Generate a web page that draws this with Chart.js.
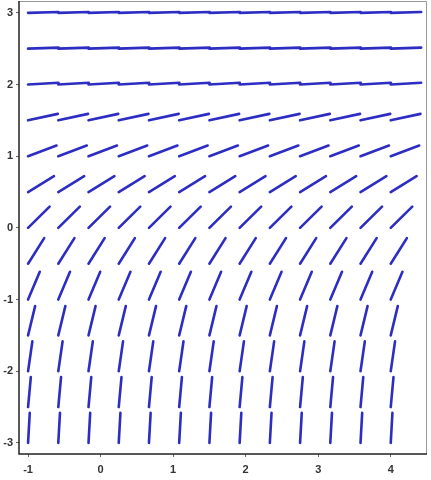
<!DOCTYPE html>
<html><head><meta charset="utf-8">
<script src="https://cdn.jsdelivr.net/npm/chart.js@4.4.1/dist/chart.umd.min.js"></script>
<style>html,body{margin:0;padding:0;background:#fff}#wrap{width:431px;height:480px}</style>
</head><body><div id="wrap"><canvas id="c" width="431" height="480"></canvas></div>
<script>
// grid columns (x) and rows (y) of the slope field
const xs = [-1, -0.5833, -0.1667, 0.25, 0.6667, 1.0833, 1.5, 1.9167, 2.3333, 2.75, 3.1667, 3.5833, 4];
const ys = [3, 2.5, 2, 1.5, 1, 0.5, 0, -0.5, -1, -1.5, -2, -2.5, -3];
// slope read for each row (same for all columns)
const slopes = [0.025, 0.035, 0.06, 0.22, 0.38, 0.62, 1.0, 1.6, 2.4, 4.2, 7.0, 11, 18];
const xTicks = [-1, 0, 1, 2, 3, 4];
const yTicks = [-3, -2, -1, 0, 1, 2, 3];
const segLen = 0.42;

const pts = [];
ys.forEach((y, j) => {
  const s = slopes[j];
  const dx = segLen / Math.sqrt(1 + s * s);
  xs.forEach(x => {
    pts.push({x: x, y: y});
    pts.push({x: x + dx, y: y + s * dx});
    pts.push({x: x, y: null});
  });
});

const frame = {
  id: 'frame',
  afterDraw(chart) {
    const {ctx, chartArea: a} = chart;
    ctx.save();
    ctx.lineWidth = 1;
    ctx.strokeStyle = '#999';
    ctx.beginPath();
    ctx.moveTo(a.left, a.top + 0.5); ctx.lineTo(a.right - 0.5, a.top + 0.5); ctx.lineTo(a.right - 0.5, a.bottom);
    ctx.stroke();
    ctx.strokeStyle = '#222';
    ctx.lineWidth = 1.5;
    ctx.beginPath();
    ctx.moveTo(a.left, a.top); ctx.lineTo(a.left, a.bottom); ctx.lineTo(a.right, a.bottom);
    ctx.stroke();
    ctx.restore();
  }
};

new Chart(document.getElementById('c'), {
  type: 'scatter',
  data: { datasets: [{
    data: pts, showLine: true, spanGaps: false,
    borderColor: 'rgb(45,45,195)', borderWidth: 2.6, borderCapStyle: 'round',
    pointRadius: 0, pointHoverRadius: 0
  }]},
  options: {
    responsive: false, animation: false, events: [],
    layout: { padding: { top: 1, right: 4, left: 0, bottom: 0 } },
    plugins: { legend: { display: false }, tooltip: { enabled: false } },
    scales: {
      x: {
        type: 'linear', min: -1.125, max: 4.5,
        afterBuildTicks: ax => { ax.ticks = xTicks.map(v => ({value: v})); },
        afterFit: ax => { ax.height = 26; ax.paddingLeft = 0; ax.paddingRight = 0; },
        grid: { display: true, drawOnChartArea: false, tickLength: 3, color: '#666' },
        border: { display: false },
        ticks: { color: '#333', font: { family: 'Liberation Sans', size: 11, weight: 'bold' }, padding: 6, maxRotation: 0 }
      },
      y: {
        type: 'linear', min: -3.155, max: 3.165,
        afterBuildTicks: ax => { ax.ticks = yTicks.map(v => ({value: v})); },
        afterFit: ax => { ax.width = 19; ax.paddingTop = 0; ax.paddingBottom = 0; },
        grid: { display: true, drawOnChartArea: false, tickLength: 3, color: '#666' },
        border: { display: false },
        ticks: { color: '#333', font: { family: 'Liberation Sans', size: 11, weight: 'bold' }, padding: 3 }
      }
    }
  },
  plugins: [frame]
});
</script></body></html>
